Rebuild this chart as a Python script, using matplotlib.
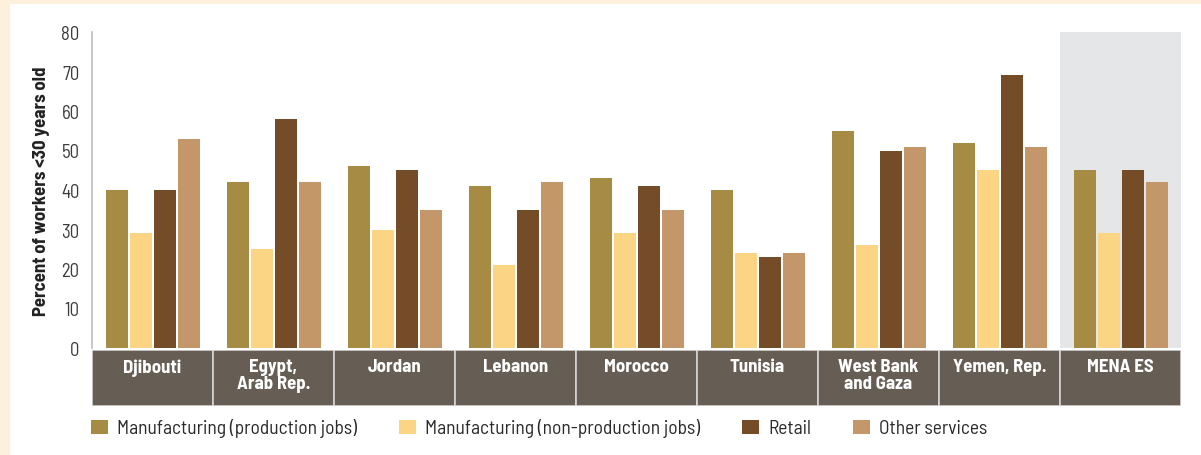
import matplotlib
matplotlib.use("Agg")
import matplotlib.pyplot as plt
from matplotlib.patches import Rectangle, Patch
from matplotlib import font_manager

# --- data -----------------------------------------------------------------
categories = ["Djibouti", "Egypt,\nArab Rep.", "Jordan", "Lebanon", "Morocco",
              "Tunisia", "West Bank\nand Gaza", "Yemen, Rep.", "MENA ES"]
series_names = ["Manufacturing (production jobs)",
                "Manufacturing (non-production jobs)",
                "Retail", "Other services"]
mfg_production = [40, 42, 46, 41, 43, 40, 55, 52, 45]
mfg_nonproduction = [29, 25, 30, 21, 29, 24, 26, 45, 29]
retail = [40, 58, 45, 35, 41, 23, 50, 69, 45]
other_services = [53, 42, 35, 42, 35, 24, 51, 51, 42]
y_ticks = [0, 10, 20, 30, 40, 50, 60, 70, 80]
y_label = "Percent of workers <30 years old"

colors = ["#a68b45", "#fbd583", "#744c28", "#c4976a"]
band_color = "#665e54"
cream = "#fdf1dd"

# --- fonts ----------------------------------------------------------------
available = {f.name for f in font_manager.fontManager.ttflist}
def pick(*names):
    return [n for n in names if n in available] + ["DejaVu Sans"]

body_font = pick("Barlow Semi Condensed", "Barlow Condensed")
plt.rcParams["font.family"] = body_font

W, H = 1201, 456
fig = plt.figure(figsize=(W / 100, H / 100), dpi=100, facecolor=cream)

# white panel inside the cream frame
fig.patches.append(Rectangle((10 / W, 0), 1 - 10 / W, 1 - 5 / H,
                             transform=fig.transFigure, facecolor="white",
                             edgecolor="none", zorder=-10))

def fx(px):
    return px / W

def fy(py):
    return 1 - py / H

# main plotting area
left_px, right_px = 92, 1181
top_px, zero_px = 33, 349
ax = fig.add_axes([fx(left_px), fy(zero_px), fx(right_px - left_px),
                   (zero_px - top_px) / H])
ax.set_facecolor("none")
n = len(categories)
ax.set_xlim(0, n)
ax.set_ylim(0, 80)

# shaded summary column
ax.axvspan(n - 1, n, color="#e5e6e8", zorder=0, lw=0)

series = [mfg_production, mfg_nonproduction, retail, other_services]
bar_w = 0.182
step = 0.2
for k, (vals, col) in enumerate(zip(series, colors)):
    xs = [i + 0.5 + (k - 1.5) * step + 0.004 for i in range(n)]
    ax.bar(xs, vals, width=bar_w, color=col, zorder=2, linewidth=0)

for s in ["top", "right", "bottom"]:
    ax.spines[s].set_visible(False)
ax.spines["left"].set_color("#bdbdbd")
ax.spines["left"].set_linewidth(1.2)
ax.set_xticks([])
ax.set_yticks(y_ticks)
ax.tick_params(axis="y", length=0, pad=9, labelsize=13.5, labelcolor="#3c3c3c")
ax.set_ylabel(y_label, fontsize=13.5, fontweight="bold", color="#222222")
ax.yaxis.set_label_coords(-0.039, 0.5)

# category band under the axis
band_top, band_bot = 351, 407
bax = fig.add_axes([fx(left_px), fy(band_bot), fx(right_px - left_px),
                    (band_bot - band_top) / H])
bax.set_xlim(0, n)
bax.set_ylim(0, 1)
bax.axis("off")
for i, name in enumerate(categories):
    bax.add_patch(Rectangle((i, 0), 1, 1, facecolor=band_color,
                            edgecolor="#d4d4d4", linewidth=1.2))
    bax.text(i + 0.5, 0.85, name, ha="center", va="top", color="white",
             fontsize=13.5, fontweight="bold", linespacing=1.0)

# legend
handles = [Patch(facecolor=c, edgecolor="none", label=l)
           for c, l in zip(colors, series_names)]
fs = 14
fig.legend(handles=handles, loc="center left",
           bbox_to_anchor=(fx(91), fy(429)), ncol=4, frameon=False,
           fontsize=fs, labelcolor="#2a2a2a",
           handlelength=0.88, handleheight=0.72, handletextpad=0.46,
           columnspacing=2.15, borderpad=0.0, borderaxespad=0.0)

fig.savefig("out.png", dpi=100, facecolor=cream)
